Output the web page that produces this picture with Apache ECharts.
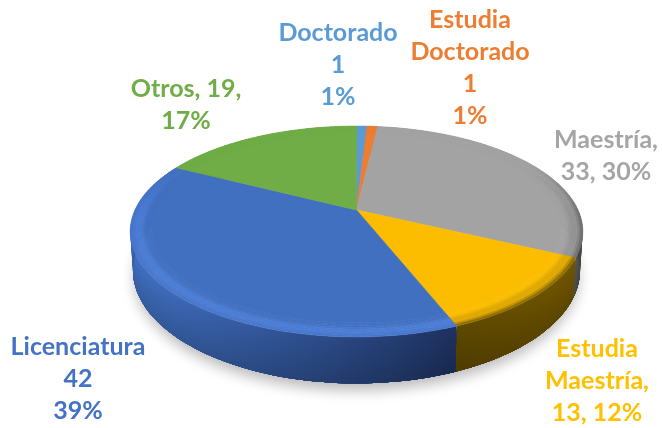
<!DOCTYPE html>
<html><head><meta charset="utf-8">
<style>html,body{margin:0;padding:0;background:#fff}#c{width:662px;height:428px}</style>
<script src="https://cdn.jsdelivr.net/npm/echarts@6/dist/echarts.min.js"></script>
</head><body><div id="c"></div>
<script>
const categories = ['Doctorado','Estudia Doctorado','Maestría','Estudia Maestría','Licenciatura','Otros'];
const values = [1,1,33,13,42,19];
const colors = ['#5B9BD5','#ED7D31','#A3A3A3','#FCBD00','#4270C0','#70AD47'];
const labelColors = ['#5B9BD5','#ED7D31','#A5A5A5','#FFC000','#4472C4','#70AD47'];
const rimPeak = ['#5B9BD5','#ED7D31','#959595','#E0A800','#4A7CD4','#78B84E'];
const rimEdge = ['#4A7FAE','#B85F25','#6A6A6A','#7A5E00','#4674C6','#55803A'];
const wallStops = [
  ['#3F6F9C','#3F6F9C'],['#9A5020','#9A5020'],['#7A7A7A','#4A4A4A'],
  ['#5C4700','#705600'],['#4070C2','#1E3260'],['#4F7A33','#4F7A33']
];
const wallRange = [[330,360],[350,370],[540,585],[450,575],[132,452],[130,360]];
const labelCenters = [[338,65],[470,68],[606,156],[597,381],[78,379],[186,105]];

const total = values.reduce((a,b)=>a+b,0);
const pct = v => Math.round(v/total*100);
const labelTexts = [
  `Doctorado\n${values[0]}\n${pct(values[0])}%`,
  `Estudia\nDoctorado\n${values[1]}\n${pct(values[1])}%`,
  `Maestría,\n${values[2]}, ${pct(values[2])}%`,
  `Estudia\nMaestría,\n${values[3]}, ${pct(values[3])}%`,
  `Licenciatura\n${values[4]}\n${pct(values[4])}%`,
  `Otros, ${values[5]},\n${pct(values[5])}%`
];

// Perspective view of the disc
const X0=356.5, Y0=210, R=221.5, H=101, K=0.204, DROP=37, SHRINK=0.012;
function proj(th,r,h){
  const u=r*Math.sin(th), t=r*Math.cos(th), w=1+K*t;
  return [X0+R*u*(1-SHRINK*h)/w, Y0-H*t/w+DROP*h/w];
}
const starts=[]; let acc=0;
values.forEach(v=>{starts.push(acc); acc+=v;});
const ang = s => s/total*Math.PI*2;
const STEP=Math.PI/90;
function arcAngles(a,b){
  const n=Math.max(1,Math.ceil((b-a)/STEP)), out=[];
  for(let i=0;i<=n;i++) out.push(a+(b-a)*i/n);
  return out;
}
const poly=(points,fill,extra)=>({type:'polygon',shape:{points},style:Object.assign({fill,stroke:typeof fill==='string'?fill:undefined,lineWidth:typeof fill==='string'?0.7:0},extra||{})});

function renderWall(params,api){
  const i=params.dataIndex, v=api.value(0);
  const a=ang(starts[i]), b=a+ang(v);
  const as=arcAngles(a,b), kids=[];
  const strips=16;
  for(let k=0;k<strips;k++){
    const h=k/strips, dark=0.82+0.18*(1-h);
    const pts=as.map(t=>proj(t,1,h)).concat(as.slice().reverse().map(t=>proj(t,1,1)));
    const shade=c=>echarts.color.lerp(1-dark,[c,'#000000']);
    const fill={type:'linear',x:wallRange[i][0],y:0,x2:wallRange[i][1],y2:0,global:true,
      colorStops:[{offset:0,color:shade(wallStops[i][0])},{offset:1,color:shade(wallStops[i][1])}]};
    kids.push(poly(pts,fill));
  }
  return {type:'group',children:kids};
}
function renderTop(params,api){
  const i=params.dataIndex, v=api.value(0);
  const a=ang(starts[i]), b=a+ang(v);
  const as=arcAngles(a,b), kids=[];
  const IN=0.91, rings=9;
  kids.push(poly([proj(0,0,0)].concat(as.map(t=>proj(t,IN,0))),colors[i]));
  for(let r=0;r<rings;r++){
    const r0=IN+(1-IN)*r/rings, r1=IN+(1-IN)*(r+1)/rings, m=(r+0.5)/rings;
    const ringCol=echarts.color.lerp(m,[colors[i],colors[i],rimPeak[i],rimPeak[i],rimEdge[i]]);
    for(let s=0;s<as.length-1;s++){
      const t=Math.cos((as[s]+as[s+1])/2);
      const st=Math.max(0,Math.min(1,(0.5-t)/0.55));
      const c=echarts.color.lerp(st,[colors[i],ringCol]);
      kids.push(poly([proj(as[s],r0,0),proj(as[s+1],r0,0),proj(as[s+1],r1,0),proj(as[s],r1,0)],c));
    }
  }
  return {type:'group',children:kids};
}
function renderShadow(params,api){
  const as=arcAngles(0,Math.PI*2);
  return poly(as.map(t=>proj(t,0.99,1)),'#ffffff',{shadowBlur:14,shadowOffsetY:8,shadowColor:'rgba(0,0,0,0.28)'});
}
function renderLabel(params,api){
  const i=params.dataIndex;
  return {type:'text',x:labelCenters[i][0],y:labelCenters[i][1],style:{
    text:labelTexts[i],fill:labelColors[i],align:'center',verticalAlign:'middle',
    font:'bold 25px Lato, Carlito, sans-serif',lineHeight:32}};
}
const seriesData=categories.map((name,i)=>({name,value:[values[i]]}));
const chart=echarts.init(document.getElementById('c'),null,{renderer:'canvas'});
chart.setOption({
  animation:false,
  backgroundColor:'#fff',
  series:[
    {type:'custom',coordinateSystem:'none',z:1,silent:true,data:[seriesData[0]],renderItem:renderShadow},
    {type:'custom',coordinateSystem:'none',z:2,silent:true,data:seriesData,renderItem:renderWall},
    {type:'custom',coordinateSystem:'none',z:3,silent:true,data:seriesData,renderItem:renderTop},
    {type:'custom',coordinateSystem:'none',z:4,silent:true,data:seriesData,renderItem:renderLabel}
  ]
});
</script></body></html>
